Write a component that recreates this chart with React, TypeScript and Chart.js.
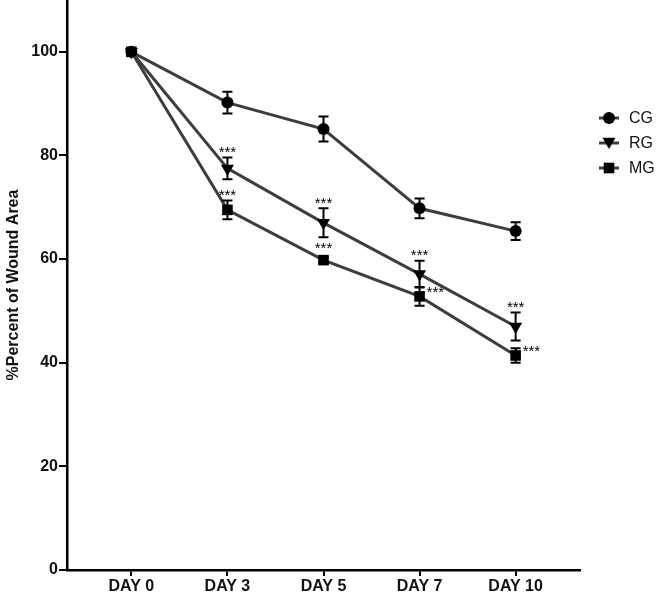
import React, { useEffect, useRef } from "react";
import { Chart, registerables } from "chart.js";
Chart.register(...registerables);

const days = ["DAY 0", "DAY 3", "DAY 5", "DAY 7", "DAY 10"];
const yTicks = [0, 20, 40, 60, 80, 100];
const seriesNames = ["CG", "RG", "MG"];
const cgMean = [100, 90.2, 85.1, 69.8, 65.4];
const cgErr = [0, 2.1, 2.4, 1.9, 1.7];
const rgMean = [100, 77.5, 67.0, 57.1, 47.0];
const rgErr = [0, 2.1, 2.8, 2.6, 2.7];
const mgMean = [100, 69.5, 59.8, 52.8, 41.4];
const mgErr = [0, 1.8, 0.5, 1.8, 1.4];
const sigLabel = "***";
// [series index, day index]
const sigAbove = [[1, 1], [2, 1], [1, 2], [2, 2], [1, 3], [1, 4]];
const sigRight = [[2, 3], [2, 4]];

const FONT = '"Liberation Sans", Arial, Helvetica, sans-serif';
const LINE = "#3d3d3d";
const styles = ["circle", "triangle", "rect"];
const radii = [6, 7.5, 7.5];
const rotations = [0, 180, 0];

function shape(ctx: CanvasRenderingContext2D, style: string, x: number, y: number, r: number) {
  ctx.beginPath();
  if (style === "circle") {
    ctx.arc(x, y, r, 0, Math.PI * 2);
  } else if (style === "rect") {
    const s = r * Math.SQRT1_2;
    ctx.rect(x - s, y - s, 2 * s, 2 * s);
  } else {
    ctx.moveTo(x, y + r);
    ctx.lineTo(x - r * 0.866, y - r / 2);
    ctx.lineTo(x + r * 0.866, y - r / 2);
    ctx.closePath();
  }
  ctx.fill();
}

export default function App() {
  const ref = useRef<HTMLCanvasElement | null>(null);
  useEffect(() => {
    if (!ref.current) return;
    const means = [cgMean, rgMean, mgMean];
    const errs = [cgErr, rgErr, mgErr];

    const extras = {
      id: "extras",
      afterDatasetsDraw(chart: any) {
        const ctx = chart.ctx as CanvasRenderingContext2D;
        const xs = chart.scales.x;
        const ys = chart.scales.y;
        ctx.save();
        ctx.strokeStyle = "#000";
        ctx.lineWidth = 2;
        means.forEach((m, si) => {
          m.forEach((v, i) => {
            const e = errs[si][i];
            if (!e) return;
            const x = xs.getPixelForValue(i);
            const t = ys.getPixelForValue(v + e);
            const b = ys.getPixelForValue(v - e);
            ctx.beginPath();
            ctx.moveTo(x, t);
            ctx.lineTo(x, b);
            ctx.moveTo(x - 5, t);
            ctx.lineTo(x + 5, t);
            ctx.moveTo(x - 5, b);
            ctx.lineTo(x + 5, b);
            ctx.stroke();
          });
        });
        ctx.fillStyle = "#000";
        ctx.font = `15px ${FONT}`;
        ctx.textBaseline = "alphabetic";
        ctx.textAlign = "center";
        sigAbove.forEach(([si, i]) => {
          const x = xs.getPixelForValue(i);
          const v = means[si][i];
          const e = Math.max(errs[si][i], 1.2);
          const t = ys.getPixelForValue(v + e);
          ctx.fillText(sigLabel, x, t - 0.5);
        });
        ctx.textAlign = "left";
        sigRight.forEach(([si, i]) => {
          const x = xs.getPixelForValue(i);
          const y = ys.getPixelForValue(means[si][i]);
          ctx.fillText(sigLabel, x + 7, y + 1);
        });
        ctx.restore();
      },
      afterDraw(chart: any) {
        const ctx = chart.ctx as CanvasRenderingContext2D;
        ctx.save();
        const lx = 609;
        seriesNames.forEach((name, i) => {
          const y = 118 + 25 * i;
          ctx.strokeStyle = LINE;
          ctx.lineWidth = 3;
          ctx.beginPath();
          ctx.moveTo(lx - 10, y);
          ctx.lineTo(lx + 10, y);
          ctx.stroke();
          ctx.fillStyle = "#000";
          shape(ctx, styles[i], lx, i === 1 ? y - 1.5 : y, radii[i]);
          ctx.fillStyle = "#111";
          ctx.font = `16px ${FONT}`;
          ctx.textAlign = "left";
          ctx.textBaseline = "middle";
          ctx.fillText(name, lx + 20, y + 1);
        });
        ctx.restore();
      },
    };

    const chart = new Chart(ref.current, {
      type: "line",
      data: {
        datasets: means.map((m, si) => ({
          label: seriesNames[si],
          data: m.map((v, i) => ({ x: i, y: v })),
          borderColor: LINE,
          borderWidth: 3,
          pointStyle: styles[si] as any,
          pointRadius: radii[si],
          pointRotation: rotations[si],
          pointBackgroundColor: "#000",
          pointBorderColor: "#000",
          pointBorderWidth: 0,
          tension: 0,
        })),
      },
      options: {
        responsive: false,
        animation: false,
        events: [],
        layout: { autoPadding: false, padding: { top: 0, right: 77, bottom: 0, left: 0 } },
        plugins: { legend: { display: false }, tooltip: { enabled: false } },
        scales: {
          x: {
            type: "linear",
            min: -0.67,
            max: 4.67,
            afterBuildTicks: (s: any) => {
              s.ticks = days.map((_, i) => ({ value: i }));
            },
            afterFit: (s: any) => {
              s.height = 24;
              s.paddingLeft = 0;
              s.paddingRight = 0;
              s.paddingTop = 0;
              s.paddingBottom = 0;
            },
            ticks: {
              autoSkip: false,
              maxRotation: 0,
              padding: 1,
              color: "#111",
              font: { family: FONT, size: 16, weight: "bold" },
              callback: (v: any) => days[v as number] ?? "",
            },
            grid: { drawOnChartArea: false, drawTicks: true, tickLength: 6, tickColor: "#000", lineWidth: 2 },
            border: { color: "#000", width: 2.5 },
          },
          y: {
            type: "linear",
            min: 0,
            max: 110,
            afterBuildTicks: (s: any) => {
              s.ticks = yTicks.map((v) => ({ value: v }));
            },
            afterFit: (s: any) => {
              s.width = 67;
              s.paddingTop = 0;
              s.paddingBottom = 0;
              s.paddingLeft = 0;
              s.paddingRight = 0;
            },
            ticks: {
              padding: 1,
              color: "#111",
              font: { family: FONT, size: 16, weight: "bold" },
            },
            title: {
              display: true,
              text: "%Percent of Wound Area",
              color: "#111",
              font: { family: FONT, size: 16, weight: "bold" },
            },
            grid: { drawOnChartArea: false, drawTicks: true, tickLength: 8, tickColor: "#000", lineWidth: 2 },
            border: { color: "#000", width: 2.5 },
          },
        },
      },
      plugins: [extras],
    });
    return () => chart.destroy();
  }, []);

  return (
    <div style={{ position: "fixed", left: 0, top: 0, width: 657, height: 594, background: "#fff" }}>
      <canvas ref={ref} width={657} height={594} />
    </div>
  );
}
